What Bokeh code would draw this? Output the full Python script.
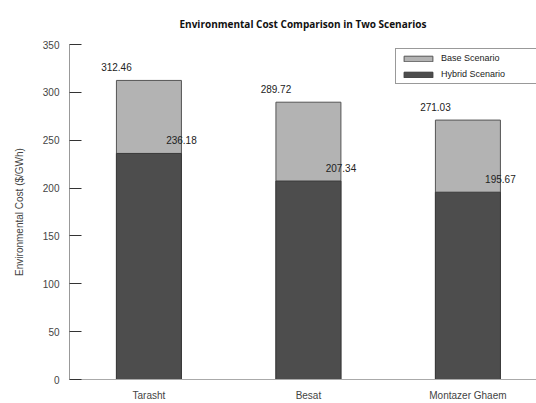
from bokeh.plotting import figure
from bokeh.models import ColumnDataSource, FixedTicker, Legend, LegendItem, Range1d
from bokeh.embed import file_html
from bokeh.resources import INLINE
from bokeh.core.properties import value

plants = ["Tarasht", "Besat", "Montazer Ghaem"]
base_costs = [312.46, 289.72, 271.03]
hybrid_costs = [236.18, 207.34, 195.67]
y_ticks = [0, 50, 100, 150, 200, 250, 300, 350]

pos = list(range(len(plants)))
bar_w = 0.4075

src = ColumnDataSource(dict(
    x=pos,
    base=base_costs,
    hybrid=hybrid_costs,
    left=[p - bar_w / 2 for p in pos],
    right=[p + bar_w / 2 for p in pos],
    base_txt=[f"{v:.2f}" for v in base_costs],
    hybrid_txt=[f"{v:.2f}" for v in hybrid_costs],
))

p = figure(width=536, height=403, output_backend="svg", toolbar_location=None,
           x_range=Range1d(-0.498, 2.43), y_range=Range1d(0, 350),
           min_border_left=69, min_border_right=0, min_border_top=44, min_border_bottom=23,
           title="Environmental Cost Comparison in Two Scenarios")
p.title.align = "center"
p.title.text_font = "Open Sans"
p.title.text_font_size = "10px"
p.title.text_font_style = "bold"
p.title.text_color = "#111111"
p.title.standoff = 28
p.outline_line_color = None
p.xgrid.grid_line_color = None
p.ygrid.grid_line_color = None

rb = p.vbar(x="x", top="base", bottom=0, width=bar_w, source=src,
            fill_color="#b3b3b3", line_color="#555555", line_width=1)
rh = p.vbar(x="x", top="hybrid", bottom=0, width=bar_w, source=src,
            fill_color="#4d4d4d", line_color="#3a3a3a", line_width=1)

p.text(x="left", y="base", text="base_txt", source=src, text_align="center",
       text_baseline="middle", y_offset=-13, text_font=value("Liberation Sans"),
       text_font_size="10px", text_color="#222222")
p.text(x="right", y="hybrid", text="hybrid_txt", source=src, text_align="center",
       text_baseline="middle", y_offset=-13, text_font=value("Liberation Sans"),
       text_font_size="10px", text_color="#222222")

# y axis
ya = p.yaxis[0]
ya.ticker = FixedTicker(ticks=y_ticks)
ya.major_tick_in = 12
ya.major_tick_out = 0
ya.minor_tick_line_color = None
ya.major_tick_line_color = "#333333"
ya.axis_line_color = "#999999"
ya.major_label_standoff = 10
ya.major_label_text_font = "Liberation Sans"
ya.major_label_text_font_size = "10px"
ya.major_label_text_color = "#444444"
ya.axis_label = "Environmental Cost ($/GWh)"
ya.axis_label_text_font = "Liberation Sans"
ya.axis_label_text_font_size = "10px"
ya.axis_label_text_font_style = "normal"
ya.axis_label_text_color = "#444444"
ya.axis_label_standoff = 15

# x axis
xa = p.xaxis[0]
xa.ticker = FixedTicker(ticks=pos)
xa.major_label_overrides = {i: n for i, n in enumerate(plants)}
xa.major_tick_line_color = None
xa.major_tick_in = 0
xa.major_tick_out = 0
xa.minor_tick_line_color = None
xa.minor_tick_in = 0
xa.minor_tick_out = 0
xa.axis_line_color = "#aaaaaa"
xa.major_label_standoff = 10
xa.major_label_text_font = "Liberation Sans"
xa.major_label_text_font_size = "10px"
xa.major_label_text_color = "#444444"

legend = Legend(items=[LegendItem(label="Base Scenario", renderers=[rb]),
                       LegendItem(label="Hybrid Scenario", renderers=[rh])],
                location=(326, 295))
legend.glyph_width = 36
legend.glyph_height = 7
legend.label_height = 9
legend.label_width = 110
legend.label_standoff = 5
legend.spacing = 6
legend.padding = 4
legend.margin = 0
legend.label_text_font = "Liberation Sans"
legend.label_text_font_size = "9px"
legend.label_text_color = "#222222"
legend.border_line_color = "#333333"
legend.border_line_width = 1
legend.background_fill_color = "white"
p.add_layout(legend, "center")

open("out.html", "w").write(file_html(p, INLINE))
